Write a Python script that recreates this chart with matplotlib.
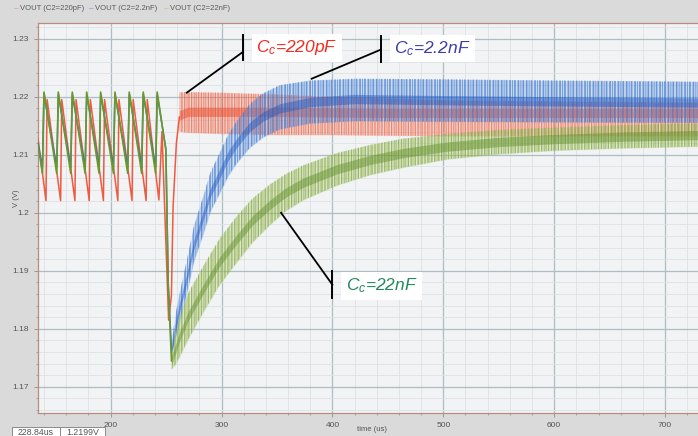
import numpy as np
import matplotlib.pyplot as plt
import matplotlib as mlp
import matplotlib.patches as mpatches
from matplotlib.ticker import MultipleLocator, FormatStrFormatter

mlp.rcParams['font.family'] = ['Liberation Sans', 'DejaVu Sans']
mlp.rcParams['mathtext.fontset'] = 'custom'
mlp.rcParams['mathtext.it'] = 'Liberation Sans:italic'
mlp.rcParams['mathtext.rm'] = 'Liberation Sans'
mlp.rcParams['hatch.linewidth'] = 0.8

#-------------------------------------------------------------------------------
# series names
labels = ['VOUT (C2=220pF)', 'VOUT (C2=2.2nF)', 'VOUT (C2=22nF)']

# sawtooth before the load step + the dip (vertices)
t_red = [134.5, 141.7, 142.7, 154.9, 155.9, 167.8, 168.8, 180.7, 181.7, 193.5, 194.5,
         206.5, 207.5, 219.3, 220.3, 232.0, 233.0, 243.5, 246.3, 252.3, 254.8, 256.3,
         259.3, 262.0]
v_red = [1.2128, 1.2021, 1.2195, 1.2021, 1.2195, 1.2021, 1.2195, 1.2021, 1.2195, 1.2021, 1.2195,
         1.2021, 1.2195, 1.2021, 1.2195, 1.2021, 1.2195, 1.2022, 1.2140, 1.1815, 1.1857, 1.2010,
         1.2120, 1.2165]

t_blue = [134.5, 138.5, 139.9, 151.4, 152.8, 164.0, 165.4, 177.0, 178.4, 189.6, 191.0,
          202.5, 203.9, 215.4, 216.8, 228.0, 229.4, 240.6, 242.0, 249.8, 251.9, 254.9]
v_blue = [1.2120, 1.2078, 1.2204, 1.2078, 1.2204, 1.2078, 1.2204, 1.2078, 1.2204, 1.2078, 1.2204,
          1.2078, 1.2204, 1.2078, 1.2204, 1.2078, 1.2204, 1.2078, 1.2204, 1.2110, 1.1880, 1.1762]

t_green = [134.5, 138.5, 139.9, 151.4, 152.8, 164.0, 165.4, 177.0, 178.4, 189.6, 191.0,
           202.5, 203.9, 215.4, 216.8, 228.0, 229.4, 240.6, 242.0, 249.8, 251.9, 254.9]
v_green = [1.2116, 1.2068, 1.2208, 1.2068, 1.2208, 1.2068, 1.2208, 1.2068, 1.2208, 1.2068, 1.2208,
           1.2068, 1.2208, 1.2068, 1.2208, 1.2068, 1.2208, 1.2068, 1.2208, 1.2108, 1.1875, 1.1745]

# ripple band after the step: bottom / dense middle / top of the ripple
rt = [262, 270, 300, 350, 400, 450, 500, 600, 730]
r_mid = [1.2168, 1.2174, 1.2174, 1.2174, 1.2173, 1.2172, 1.2172, 1.2172, 1.2172]
r_top = [1.2208, 1.2208, 1.2207, 1.2204, 1.2200, 1.2197, 1.2194, 1.2192, 1.2190]
r_bot = [1.2140, 1.2138, 1.2136, 1.2134, 1.2134, 1.2133, 1.2132, 1.2132, 1.2132]

bt = [254.9, 258, 262, 268.4, 275, 283.4, 290, 298.5, 306, 313.6, 325.5, 337.5, 352.5,
      380, 420, 500, 600, 730]
b_mid = [1.1762, 1.1800, 1.1835, 1.1886, 1.1945, 1.1994, 1.2035, 1.2068, 1.2098, 1.2120,
         1.2148, 1.2166, 1.2180, 1.2191, 1.2196, 1.2194, 1.2192, 1.2190]
b_top = [1.1772, 1.1820, 1.1860, 1.1916, 1.1977, 1.2028, 1.2070, 1.2104, 1.2135, 1.2158,
         1.2188, 1.2206, 1.2220, 1.2228, 1.2231, 1.2230, 1.2228, 1.2226]
b_bot = [1.1752, 1.1780, 1.1810, 1.1858, 1.1915, 1.1962, 1.2002, 1.2034, 1.2063, 1.2085,
         1.2112, 1.2130, 1.2144, 1.2154, 1.2158, 1.2157, 1.2156, 1.2155]

gt = [254.9, 258, 262.3, 270, 283.4, 298, 313.6, 328, 343.7, 358, 373.8, 404, 434, 464,
      503.4, 550, 600, 660, 730]
g_mid = [1.1745, 1.1762, 1.1787, 1.1822, 1.1868, 1.1915, 1.1954, 1.1987, 1.2014, 1.2035,
         1.2052, 1.2075, 1.2091, 1.2103, 1.2114, 1.2122, 1.2127, 1.2131, 1.2134]
g_top = [1.1755, 1.1787, 1.1822, 1.1862, 1.1908, 1.1955, 1.1994, 1.2025, 1.2049, 1.2067,
         1.2082, 1.2103, 1.2117, 1.2128, 1.2136, 1.2143, 1.2147, 1.2151, 1.2154]
g_bot = [1.1730, 1.1737, 1.1752, 1.1782, 1.1828, 1.1875, 1.1914, 1.1949, 1.1979, 1.2003,
         1.2022, 1.2047, 1.2065, 1.2078, 1.2092, 1.2101, 1.2107, 1.2111, 1.2114]

# cursor readout
cursor_t = '228.84us'
cursor_v = '1.2199V'

#-------------------------------------------------------------------------------
W, H = 698, 436
def fx(x): return x / W
def fy(y): return 1 - y / H

fig = plt.figure(figsize=(6.98, 4.36), dpi=100)
fig.patch.set_facecolor('#dadada')
ax = fig.add_axes([fx(38), fy(413), 1 - fx(38), fy(23) - fy(413)])
ax.set_facecolor('#f1f3f4')

def ripple(t, bot, mid, top, col, dark, h1, h2, a1):
    # light band + two hatch layers of vertical ripple lines
    ax.fill_between(t, bot, top, color=col, alpha=0.24, lw=0, zorder=3)
    ax.fill_between(t, bot, top, facecolor='none', edgecolor=col, hatch=h1, lw=0, alpha=a1, zorder=3)
    ax.fill_between(t, bot, top, facecolor='none', edgecolor=dark, hatch=h2, lw=0, alpha=0.4, zorder=3)
    # dense middle of the ripple
    lo = [m - 0.0008 for m in mid]
    hi = [m + 0.0008 for m in mid]
    ax.fill_between(t, lo, hi, color=dark, alpha=0.45, lw=0, zorder=3)

# red first, then blue, green on top
ax.plot(t_red, v_red, color='#ef5a40', lw=1.1, zorder=3)
ripple(rt, r_bot, r_mid, r_top, '#f4846a', '#e9401f', '|||||', '|||||||', 0.6)
ax.plot(t_blue, v_blue, color='#3270cf', lw=1.1, zorder=3)
ripple(bt, b_bot, b_mid, b_top, '#5a90dc', '#1f57c0', '||||||', '||||', 0.75)
ax.plot(t_green, v_green, color='#6c982b', lw=1.2, zorder=3)
ripple(gt, g_bot, g_mid, g_top, '#a6c466', '#5f8c26', '|||||||', '|||||', 0.75)

ax.set_xlim(134.5, 729.7)
ax.set_ylim(1.1655, 1.2327)
ax.xaxis.set_major_locator(MultipleLocator(100))
ax.xaxis.set_minor_locator(MultipleLocator(20))
ax.yaxis.set_major_locator(MultipleLocator(0.01))
ax.yaxis.set_minor_locator(MultipleLocator(0.002))
ax.yaxis.set_major_formatter(FormatStrFormatter('%g'))
ax.grid(which='major', color='#aebcc4', lw=0.9, zorder=1)
ax.grid(which='minor', color='#dde2e5', lw=0.6, zorder=0)
ax.set_axisbelow(True)
ax.tick_params(which='both', labelsize=6, labelcolor='#555555', color='#9a8a86', direction='out')
ax.tick_params(which='major', length=3, width=0.6)
ax.tick_params(which='minor', length=1.5, width=0.5)
for s in ['left', 'bottom', 'top']:
    ax.spines[s].set_color('#b98c80')
    ax.spines[s].set_linewidth(0.9)
ax.spines['right'].set_visible(False)

fig.text(fx(17), fy(198), 'V (V)', rotation=90, fontsize=5.5, color='#555555', va='center', ha='center')
fig.text(fx(372), fy(429), 'time (us)', fontsize=5.5, color='#555555', va='center', ha='center')

# legend strip
leg_cols = ['#f08a78', '#6a95d8', '#a8c66a']
for i, (lab, c) in enumerate(zip(labels, leg_cols)):
    x0 = 14 + 75 * i
    fig.text(fx(x0), fy(9), '\u2013', color=c, fontsize=6, va='center')
    fig.text(fx(x0 + 6), fy(9), lab, color='#5a5a5a', fontsize=5.5, va='center')

# cursor boxes
for (x0, x1, s) in [(12, 60, cursor_t), (60, 105, cursor_v)]:
    fig.patches.append(mpatches.Rectangle((fx(x0), fy(437)), fx(x1 - x0), 10 / H,
                                          transform=fig.transFigure, fc='white', ec='#8a8a8a', lw=0.7))
    fig.text(fx((x0 + x1) / 2), fy(432), s, fontsize=6.3, color='#555555', va='center', ha='center')

# callouts
def callout(bar_t, bar_v0, bar_v1, join_v, tip_t, tip_v, txt_t, txt_v, txt, col):
    ax.plot([bar_t, bar_t], [bar_v0, bar_v1], color='black', lw=1.4, zorder=6, clip_on=False)
    ax.plot([bar_t, tip_t], [join_v, tip_v], color='black', lw=1.3, zorder=6, clip_on=False)
    ax.text(txt_t, txt_v, txt, color=col, fontsize=12.5, style='italic', va='center', ha='left',
            zorder=7, bbox=dict(boxstyle='square,pad=0.25', fc='white', ec='none'))

callout(319.2, 1.2306, 1.2263, 1.2277, 268.7, 1.2207, 331.5, 1.2284, r'$C_c$=220pF', '#f52a1e')
callout(443.5, 1.2305, 1.2260, 1.2281, 381.3, 1.2231, 455.5, 1.2283, r'$C_c$=2.2nF', '#3b3cae')
callout(400.0, 1.1900, 1.1854, 1.1876, 353.7, 1.2000, 412.0, 1.1874, r'$C_c$=22nF', '#23895a')

fig.savefig('out.png', dpi=100, facecolor=fig.get_facecolor())
